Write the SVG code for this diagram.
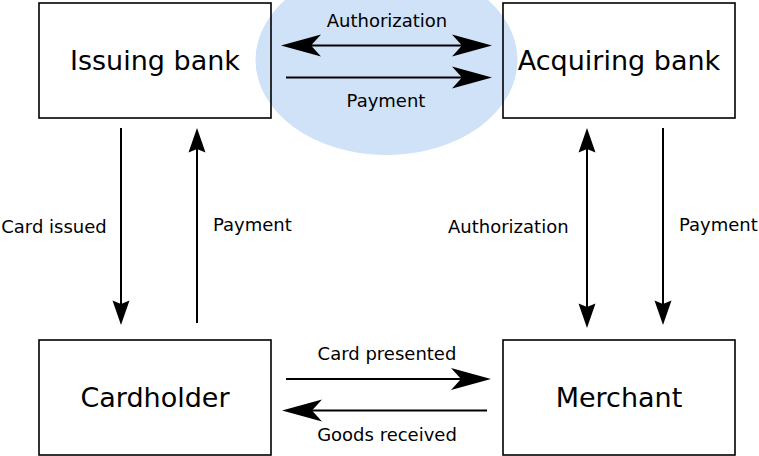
<svg xmlns="http://www.w3.org/2000/svg" width="759" height="456" viewBox="0 0 759 456">
<style>
.box{fill:none;stroke:#000;stroke-width:1.6}
.name{font-family:"DejaVu Sans",sans-serif;font-size:27px;fill:#000;text-anchor:middle}
.lbl{font-family:"DejaVu Sans",sans-serif;font-size:18px;fill:#000}
.c{text-anchor:middle}
.ln{fill:none;stroke:#000;stroke-width:2}
.h{marker-end:url(#big)}
.hh{marker-start:url(#big);marker-end:url(#big)}
.v{marker-end:url(#small)}
.vv{marker-start:url(#small);marker-end:url(#small)}
</style>
<defs>
<marker id="big" markerUnits="userSpaceOnUse" markerWidth="60" markerHeight="30" refX="0" refY="0" viewBox="-15 -15 60 30" orient="auto-start-reverse" overflow="visible">
<path d="M30,0 L-10,-11 L0,0 L-10,11 Z" fill="#000"/>
</marker>
<marker id="small" markerUnits="userSpaceOnUse" markerWidth="40" markerHeight="30" refX="0" refY="0" viewBox="-10 -15 40 30" orient="auto-start-reverse" overflow="visible">
<path d="M21,0 L-3.5,-8.5 L0,0 L-3.5,8.5 Z" fill="#000"/>
</marker>
</defs>
<rect width="759" height="456" fill="#fff"/>
<ellipse cx="386.5" cy="60" rx="131" ry="95" fill="#cfe2f7"/>
<g id="issuing-bank"><rect class="box" x="39" y="3" width="232" height="115"/><text class="name" x="155" y="70">Issuing bank</text></g>
<g id="acquiring-bank"><rect class="box" x="503" y="3" width="232" height="115"/><text class="name" x="619" y="70">Acquiring bank</text></g>
<g id="cardholder"><rect class="box" x="39" y="340" width="232" height="115"/><text class="name" x="155" y="407">Cardholder</text></g>
<g id="merchant"><rect class="box" x="503" y="340" width="232" height="115"/><text class="name" x="619" y="407">Merchant</text></g>
<g id="connectors">
<line class="ln hh" x1="311" y1="45.5" x2="462" y2="45.5"/>
<line class="ln h" x1="286" y1="77.5" x2="462" y2="77.5"/>
<line class="ln h" x1="286" y1="379" x2="461" y2="379"/>
<line class="ln h" x1="487" y1="410.5" x2="312" y2="410.5"/>
<line class="ln v" x1="121" y1="128" x2="121" y2="304"/>
<line class="ln v" x1="197" y1="323" x2="197" y2="149"/>
<line class="ln vv" x1="587" y1="149" x2="587" y2="307"/>
<line class="ln v" x1="663" y1="128" x2="663" y2="304"/>
<text class="lbl c" x="387" y="27">Authorization</text>
<text class="lbl c" x="386" y="107">Payment</text>
<text class="lbl c" x="54" y="233">Card issued</text>
<text class="lbl" x="213" y="231">Payment</text>
<text class="lbl" x="448" y="233">Authorization</text>
<text class="lbl" x="679" y="231">Payment</text>
<text class="lbl c" x="387" y="360">Card presented</text>
<text class="lbl c" x="387" y="441">Goods received</text>
</g>
</svg>
